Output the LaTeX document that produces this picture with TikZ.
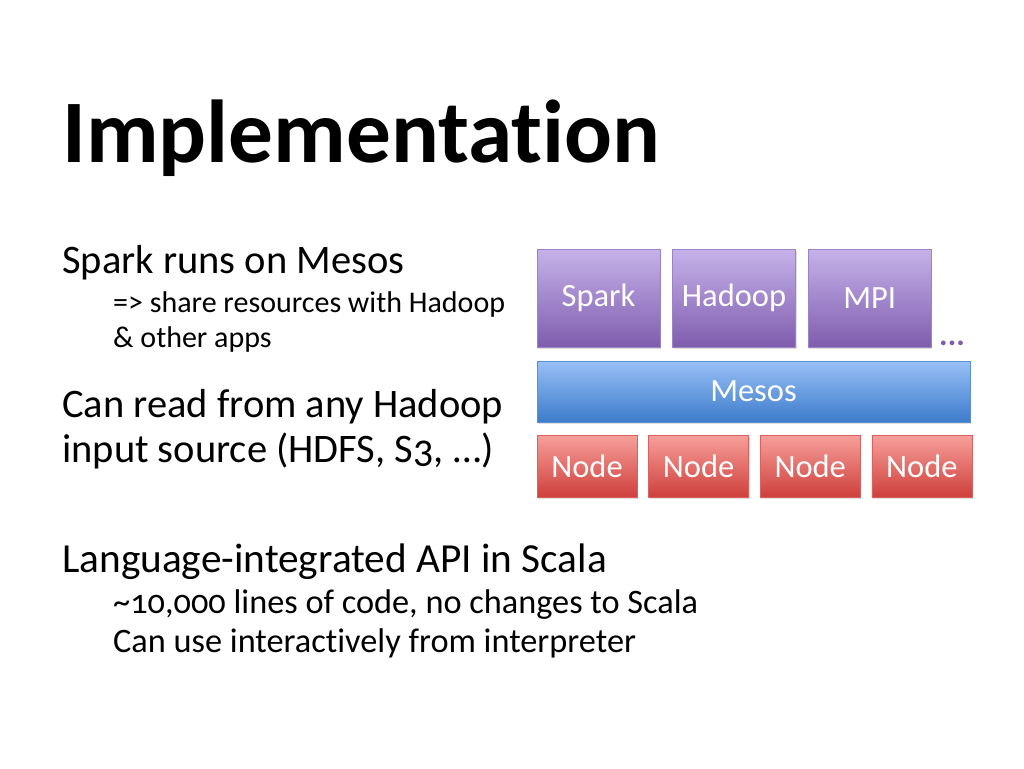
\documentclass[tikz,border=0pt]{standalone}
\usepackage{fontspec}
\setmainfont{Carlito}[Numbers=OldStyle, Ligatures=NoCommon]
\usetikzlibrary{positioning,shadows}

\definecolor{apptop}{HTML}{C6B2EA}
\definecolor{appbot}{HTML}{7F5DAE}
\definecolor{appline}{HTML}{9A84C4}
\definecolor{mestop}{HTML}{98C0F6}
\definecolor{mesbot}{HTML}{3D7CCB}
\definecolor{mesline}{HTML}{5B8FD6}
\definecolor{nodetop}{HTML}{F7A09B}
\definecolor{nodebot}{HTML}{CF3F3B}
\definecolor{nodeline}{HTML}{D9625E}

\tikzset{
  layer/.style={draw=#1line, line width=0.6pt, top color=#1top, bottom color=#1bot,
    text=white, font=\fontsize{32.5}{32.5}\selectfont, inner sep=0pt,
    drop shadow={shadow xshift=1.2pt, shadow yshift=-1.5pt, opacity=0.25}},
  main/.style={anchor=base west, inner sep=0pt, font=\fontsize{40.5}{40.5}\selectfont},
  sub/.style={anchor=base west, inner sep=0pt, font=\fontsize{#1}{#1}\selectfont},
}

\begin{document}
\begin{tikzpicture}[x=1pt,y=-1pt]
    \useasboundingbox[fill=white](0,0)rectangle(1024,768);

    \node[anchor=base west, inner sep=0pt, font=\fontsize{89.3}{89.3}\selectfont\bfseries](title)at(62,162){Implementation};

    \node[main](l1)at(62,273){Spark runs on Mesos};
    \node[sub=30](l2)at(113,312){=> share resources with Hadoop};
    \node[sub=30](l3)at(113,347){\& other apps};
    \node[main](l4)at(62,417){Can read from any Hadoop};
    \node[main](l5)at(62,462){input source (HDFS, S3, \dots)};
    \node[main, font=\fontsize{41.3}{41.3}\selectfont](l6)at(62,572){Language-integrated API in Scala};
    \node[sub=34.3](l7)at(113,613){\textasciitilde10,000 lines of code, no changes to Scala};
    \node[sub=34.3](l8)at(113,652){Can use interactively from interpreter};

    % frameworks
    \node[layer=app, minimum width=123pt, minimum height=98pt](spark)at(598.5,298){Spark};
    \node[layer=app, minimum width=123pt, minimum height=98pt, right=12pt of spark](hadoop){Hadoop};
    \node[layer=app, minimum width=123pt, minimum height=98pt, right=12pt of hadoop](mpi){MPI};
    \node[anchor=south west, inner sep=0pt, text=appbot, font=\fontsize{32}{32}\selectfont\bfseries](dots)at(939,346){...};

    % mesos
    \node[layer=mes, minimum width=433pt, minimum height=61pt](mesos)at(753.5,391.5){Mesos};

    % nodes
    \node[layer=node, minimum width=100pt, minimum height=62pt](n1)at(587,466){Node};
    \node[layer=node, minimum width=100pt, minimum height=62pt, right=11pt of n1](n2){Node};
    \node[layer=node, minimum width=100pt, minimum height=62pt, right=11pt of n2](n3){Node};
    \node[layer=node, minimum width=100pt, minimum height=62pt, right=11pt of n3](n4){Node};
\end{tikzpicture}
\end{document}
